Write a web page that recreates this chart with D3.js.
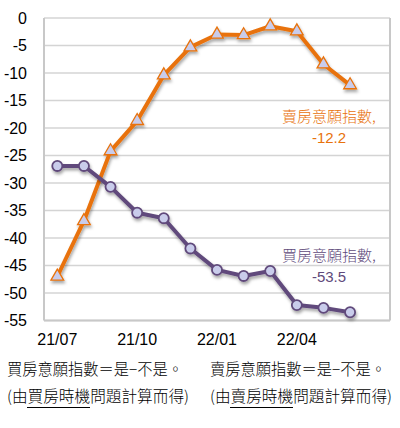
<!DOCTYPE html>
<html><head><meta charset="utf-8">
<script src="https://cdn.jsdelivr.net/npm/d3@7"></script>
<style>html,body{margin:0;padding:0;background:#fff;}svg{display:block;}</style>
</head><body>
<script>
const months = ["21/07","21/08","21/09","21/10","21/11","21/12","22/01","22/02","22/03","22/04","22/05","22/06"];
const tickLabels = ["21/07","21/10","22/01","22/04"];
const yTicks = [0,-5,-10,-15,-20,-25,-30,-35,-40,-45,-50,-55];
const buyValues = [-26.9,-26.9,-30.7,-35.4,-36.4,-41.9,-45.8,-46.9,-46.0,-52.2,-52.7,-53.5];
const sellValues = [-47.0,-36.9,-24.2,-18.7,-10.4,-5.3,-3.0,-3.1,-1.5,-2.4,-8.4,-12.2];
const sellLabel = ["賣房意願指數,", "-12.2"];
const buyLabel = ["買房意願指數,", "-53.5"];
const note1 = ["買房意願指數＝是−不是。", "賣房意願指數＝是−不是。"];

const W = 400, H = 428;
const orange = "#E8720C", purple = "#604A7B", markerFill = "#C9CCEB";
const svg = d3.select("body").append("svg").attr("width", W).attr("height", H);
const defs = svg.append("defs");
const f = defs.append("filter").attr("id","sh").attr("x","-20%").attr("y","-20%").attr("width","140%").attr("height","140%");
f.append("feDropShadow").attr("dx",1).attr("dy",2.5).attr("stdDeviation",1.5).attr("flood-color","#000").attr("flood-opacity",0.35);

const x = d3.scalePoint().domain([...months, ""]).range([44, 390]).padding(0.5);
const y = d3.scaleLinear().domain([-55, 0]).range([320.5, 18]);
const font = "'Liberation Sans', Arial, sans-serif";

// gridlines
svg.append("g").selectAll("line").data(yTicks).join("line")
  .attr("x1", 44).attr("x2", 390).attr("y1", d => y(d)).attr("y2", d => y(d))
  .attr("stroke", "#D4D4D4").attr("stroke-width", 1.3);
// frame
svg.append("line").attr("x1",44).attr("x2",44).attr("y1",y(0)).attr("y2",y(-55)).attr("stroke","#C8C8C8").attr("stroke-width",2);
svg.append("line").attr("x1",390).attr("x2",390).attr("y1",y(0)).attr("y2",y(-55)).attr("stroke","#C8C8C8").attr("stroke-width",2);
svg.append("line").attr("x1",44).attr("x2",390).attr("y1",y(-55)).attr("y2",y(-55)).attr("stroke","#C8C8C8").attr("stroke-width",2);

// y labels
svg.append("g").selectAll("text").data(yTicks).join("text")
  .attr("x", 27).attr("y", d => y(d)).attr("dy", "0.35em").attr("text-anchor", "end")
  .attr("font-family", font).attr("font-size", 16).attr("fill", "#000").text(d => d);
// x labels
svg.append("g").selectAll("text").data(tickLabels).join("text")
  .attr("x", d => x(d)).attr("y", 345).attr("text-anchor", "middle")
  .attr("font-family", font).attr("font-size", 16).attr("fill", "#000").text(d => d);

const line = d3.line().x((d,i) => x(months[i])).y(d => y(d));

function series(vals, color, shape) {
  const g = svg.append("g").attr("filter","url(#sh)");
  g.append("path").datum(vals).attr("d", line).attr("fill","none").attr("stroke",color)
    .attr("stroke-width",4).attr("stroke-linejoin","round");
  const sym = d3.symbol().type(shape === "tri" ? d3.symbolTriangle : d3.symbolCircle).size(shape === "tri" ? 70 : 80);
  g.selectAll("path.m").data(vals).join("path").attr("class","m")
    .attr("transform", (d,i) => `translate(${x(months[i])},${y(d)})`)
    .attr("d", sym).attr("fill", markerFill).attr("stroke", color).attr("stroke-width", shape === "tri" ? 1.3 : 1.8);
}
series(sellValues, orange, "tri");
series(buyValues, purple, "circle");

// data labels
const cjk = "'Noto Sans CJK TC', 'Noto Sans', sans-serif";
svg.append("text").attr("x", 329).attr("y", 122).attr("text-anchor","middle").attr("font-family", cjk)
  .attr("font-size", 15).attr("font-weight", 300).attr("fill", orange).text(sellLabel[0]);
svg.append("text").attr("x", 329).attr("y", 143).attr("text-anchor","middle").attr("font-family", font)
  .attr("font-size", 15).attr("fill", orange).text(sellLabel[1]);
svg.append("text").attr("x", 329).attr("y", 261).attr("text-anchor","middle").attr("font-family", cjk)
  .attr("font-size", 15).attr("font-weight", 300).attr("fill", purple).text(buyLabel[0]);
svg.append("text").attr("x", 329).attr("y", 282).attr("text-anchor","middle").attr("font-family", font)
  .attr("font-size", 15).attr("fill", purple).text(buyLabel[1]);

// footnotes
const cols = [7, 210];
const parts = [["(由", "買房時機", "問題計算而得)"], ["(由", "賣房時機", "問題計算而得)"]];
cols.forEach((cx, k) => {
  svg.append("text").attr("x", cx).attr("y", 375).attr("font-family", cjk).attr("font-size", 15.5)
    .attr("font-weight", 300).attr("textLength", 176).attr("lengthAdjust","spacingAndGlyphs").attr("fill","#000").text(note1[k]);
  const t = svg.append("text").attr("x", cx).attr("y", 402).attr("font-family", cjk).attr("font-size", 15.5)
    .attr("font-weight", 300).attr("textLength", 182).attr("lengthAdjust","spacingAndGlyphs").attr("fill","#000");
  parts[k].forEach(p => t.append("tspan").text(p));
  svg.append("line").attr("x1", cx + 20).attr("x2", cx + 83).attr("y1", 407.5).attr("y2", 407.5)
    .attr("stroke", "#000").attr("stroke-width", 1.2);
});
</script>
</body></html>
